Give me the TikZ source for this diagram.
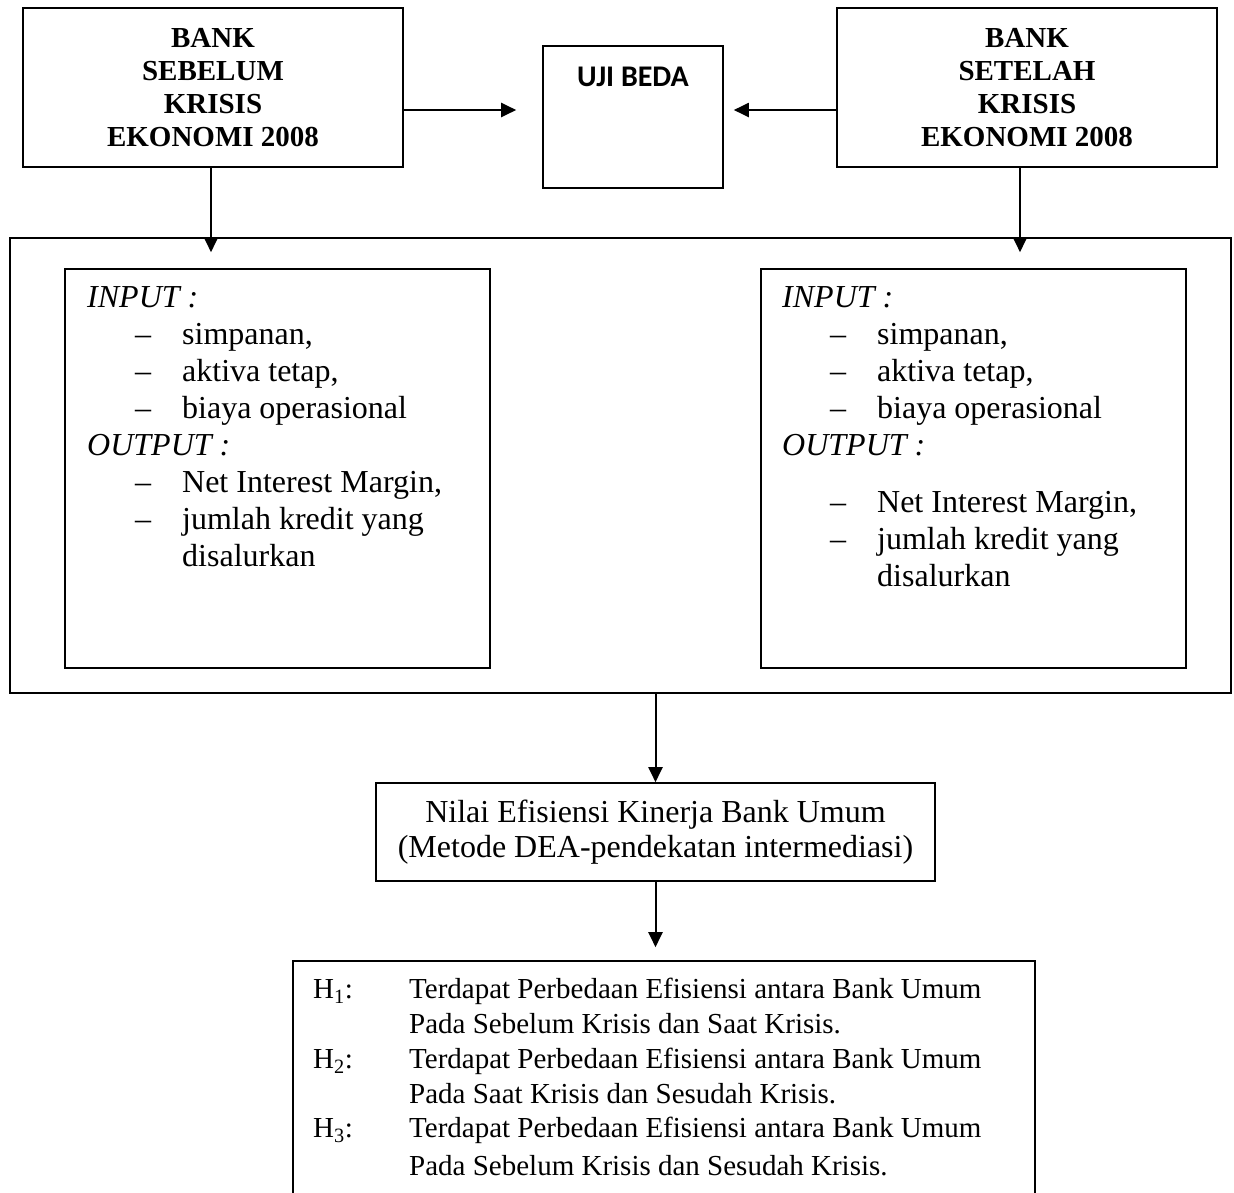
\documentclass[tikz,border=0pt]{standalone}
\usepackage{fontspec}
\setmainfont{Liberation Serif}
\newfontfamily\ujifont{Carlito}
\usetikzlibrary{arrows.meta}
\newcommand{\itm}[1]{\hspace*{48pt}\makebox[47pt][l]{--}#1}
\newcommand{\cont}[1]{\hspace*{95pt}#1}
\newcommand{\hyp}[1]{\makebox[96pt][l]{H\textsubscript{#1}:}}

\begin{document}
\begin{tikzpicture}[x=1pt, y=-1pt,
    box/.style = {draw, line width=1.6pt, inner sep=0pt},
    title/.style = {box, minimum width=380pt, minimum height=159pt, align=center,
      font=\fontsize{29}{33}\selectfont\bfseries},
    inner/.style = {box, minimum width=425pt, minimum height=399pt},
    txt/.style = {inner sep=0pt, align=left, anchor=north west,
      font=\fontsize{32}{37}\selectfont},
    arr/.style = {line width=2pt, -{Triangle[length=15pt, width=14pt]}}]
  \useasboundingbox (0,0) rectangle (1234,1192);

  % top row
  \node[title] (before) at (213,87.5) {BANK\\SEBELUM\\KRISIS\\EKONOMI 2008};
  \node[title] (after) at (1027,87.5) {BANK\\SETELAH\\KRISIS\\EKONOMI 2008};
  \node[box, minimum width=180pt, minimum height=142pt] (uji) at (633,117) {};
  \node[anchor=base, inner sep=0pt, font=\ujifont\bfseries\fontsize{30}{32}\selectfont] (ujitxt) at (633,86) {UJI BEDA};

  % variabel
  \node[box, minimum width=1221pt, minimum height=455pt] (outer) at (620.5,465.5) {};
  \node[inner] (inL) at (277.5,468.5) {};
  \node[inner] (inR) at (973.5,468.5) {};
  \node[txt] (inLtxt) at (87,286) {\textit{INPUT :}\\
    \itm{simpanan,}\\
    \itm{aktiva tetap,}\\
    \itm{biaya operasional}\\
    \textit{OUTPUT :}\\
    \itm{Net Interest Margin,}\\
    \itm{jumlah kredit yang}\\
    \cont{disalurkan}};
  \node[txt] (inRtxt) at (782,286) {\textit{INPUT :}\\
    \itm{simpanan,}\\
    \itm{aktiva tetap,}\\
    \itm{biaya operasional}\\
    \textit{OUTPUT :}\\[20pt]
    \itm{Net Interest Margin,}\\
    \itm{jumlah kredit yang}\\
    \cont{disalurkan}};

  % hasil
  \node[box, minimum width=559pt, minimum height=98pt, align=center,
    font=\fontsize{32}{35}\selectfont] (nilai) at (655.5,832)
    {Nilai Efisiensi Kinerja Bank Umum\\(Metode DEA-pendekatan intermediasi)};
  \node[box, minimum width=742pt, minimum height=289pt] (hyp) at (664,1105.5) {};
  \node[txt, font=\fontsize{29}{34.8}\selectfont] (hyptxt) at (313,978)
    {\hyp{1}Terdapat Perbedaan Efisiensi antara Bank Umum\\
    \hspace*{96pt}Pada Sebelum Krisis dan Saat Krisis.\\
    \hyp{2}Terdapat Perbedaan Efisiensi antara Bank Umum\\
    \hspace*{96pt}Pada Saat Krisis dan Sesudah Krisis.\\
    \hyp{3}Terdapat Perbedaan Efisiensi antara Bank Umum\\[3pt]
    \hspace*{96pt}Pada Sebelum Krisis dan Sesudah Krisis.};

  % panah
  \draw[arr, shorten >=26pt] ([yshift=-22.5pt]before.east) -- ([yshift=-22.5pt]before.east -| uji.west);
  \draw[arr, shorten >=10pt] ([yshift=-22.5pt]after.west) -- ([yshift=-22.5pt]after.west -| uji.east);
  \draw[arr] ([xshift=-2pt]before.south) -- ([xshift=-2pt, yshift=-15pt]before.south |- outer.north);
  \draw[arr] ([xshift=-7pt]after.south) -- ([xshift=-7pt, yshift=-15pt]after.south |- outer.north);
  \draw[arr] (nilai.north |- outer.south) -- (nilai.north);
  \draw[arr, shorten >=13pt] (nilai.south) -- (nilai.south |- hyp.north);
\end{tikzpicture}
\end{document}
